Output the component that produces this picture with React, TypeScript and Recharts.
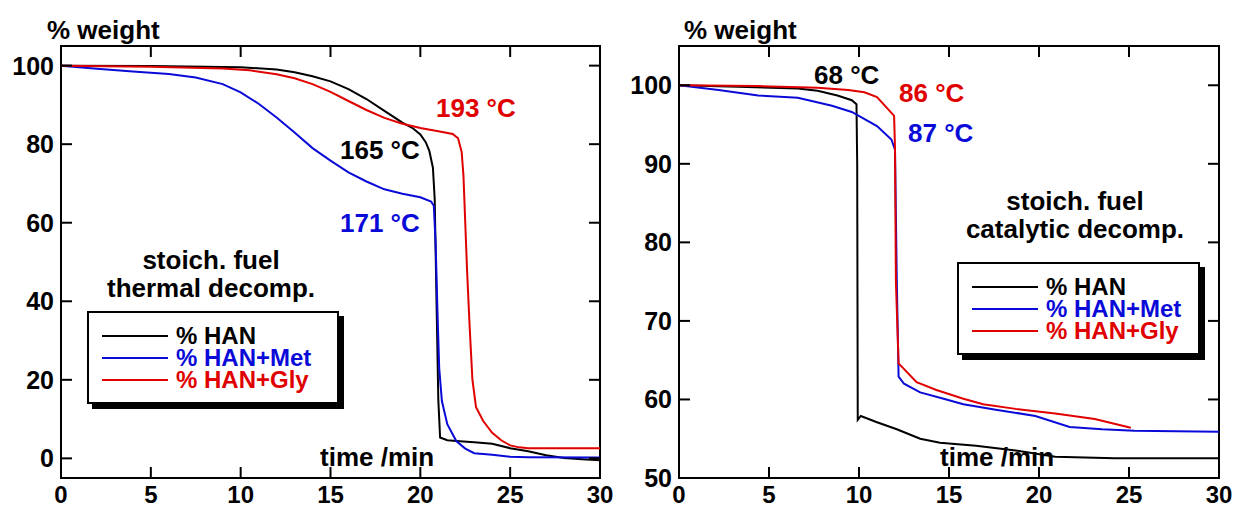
import React from 'react';
import { LineChart, Line, XAxis, YAxis, ReferenceArea } from 'recharts';

// thermal decomposition (left panel)
const thermalHanTime = [0, 5, 10, 12, 13, 14, 15, 16, 17, 18, 19, 19.6, 20, 20.3, 20.5, 20.7, 20.8, 20.9, 21.0, 21.1, 21.5, 22, 23, 24, 25, 26, 27, 28, 29, 30];
const thermalHanWeight = [100, 99.9, 99.6, 99, 98.3, 97.3, 96, 94, 91.5, 88.5, 85.5, 84, 82.5, 80.5, 78.3, 74, 66, 40, 15, 5.3, 4.6, 4.4, 4.1, 3.7, 2.6, 1.8, 0.8, 0.1, -0.2, -0.5];

const thermalMetTime = [0, 2, 4, 6, 7.5, 9, 10, 11, 12, 13, 14, 15, 16, 17, 18, 19, 20, 20.6, 20.75, 20.85, 20.95, 21.05, 21.2, 21.5, 22, 22.5, 23, 24, 25, 26, 30];
const thermalMetWeight = [100, 99.2, 98.5, 97.9, 97, 95.3, 93.2, 90.3, 86.8, 83, 79, 75.8, 72.8, 70.5, 68.5, 67.4, 66.5, 65.4, 64.3, 55, 38, 23, 14.6, 8.7, 4.4, 2.5, 1.3, 0.9, 0.4, 0.3, 0.2];

const thermalGlyTime = [0, 5, 9, 10.5, 12, 13, 14, 15, 16, 17, 18, 19, 20, 21, 21.8, 22.1, 22.3, 22.4, 22.5, 22.6, 22.75, 22.9, 23.1, 23.5, 24, 24.5, 25, 25.5, 26, 28, 30];
const thermalGlyWeight = [100, 99.7, 99.3, 98.8, 97.8, 96.8, 95.3, 93.3, 91, 88.7, 86.7, 85.2, 84.1, 83.3, 82.6, 81.5, 78, 72, 60, 48, 33, 20, 13, 9.5, 6.5, 4.6, 3.3, 2.8, 2.6, 2.6, 2.6];

// catalytic decomposition (right panel)
const catHanTime = [0, 3.3, 6.6, 7.7, 8.8, 9.6, 9.86, 9.9, 9.93, 10.1, 11, 12.1, 13.4, 14.5, 16.5, 18.7, 20.9, 24.2, 30];
const catHanWeight = [100, 99.8, 99.6, 99.3, 98.7, 98.1, 97.6, 90, 57.4, 57.9, 57.1, 56.2, 55, 54.5, 54.1, 53.5, 52.7, 52.5, 52.5];

const catMetTime = [0, 2.2, 4.4, 6.6, 8.5, 9.6, 11, 11.8, 12.0, 12.1, 12.2, 12.5, 13.4, 14.7, 15.8, 17.6, 19.8, 21.7, 23.5, 25.3, 30];
const catMetWeight = [100, 99.4, 98.7, 98.4, 97.4, 96.6, 94.8, 93.1, 91.8, 75, 62.9, 62, 60.9, 60.1, 59.4, 58.7, 57.9, 56.5, 56.2, 56, 55.9];

const catGlyTime = [0, 4.4, 7.7, 9.4, 10.3, 11, 11.6, 11.95, 12.0, 12.05, 12.2, 13.2, 14.3, 15.8, 16.9, 18.7, 20.9, 23.1, 25.1];
const catGlyWeight = [100, 99.9, 99.7, 99.4, 99.1, 98.5, 97, 96.1, 92, 75, 64.6, 62.2, 61.2, 60.1, 59.4, 58.8, 58.2, 57.5, 56.4];

const seriesNames = ['% HAN', '% HAN+Met', '% HAN+Gly'];
const seriesColors = ['#000000', '#0a0ad8', '#e00000'];

const timeTicks = [0, 5, 10, 15, 20, 25, 30];
const thermalTicks = [0, 20, 40, 60, 80, 100];
const catTicks = [50, 60, 70, 80, 90, 100];

const zip = (t: number[], v: number[]) => t.map((x, i) => ({ t: x, w: v[i] }));

const FONT = '"Liberation Sans", Arial, Helvetica, sans-serif';
const TICK_LEN = 11;
const CHART_H = 508;
const MARGIN_TOP = 46;
const MARGIN_BOTTOM = 29;
const AXIS_SIZE = 1;
const PLOT_H = CHART_H - MARGIN_TOP - MARGIN_BOTTOM - AXIS_SIZE;

const BottomTick = (props: any) => {
  const { x, y, payload, plotH } = props;
  return (
    <g>
      <line x1={x} x2={x} y1={y} y2={y - TICK_LEN} stroke="#000" strokeWidth={2} />
      <line x1={x} x2={x} y1={y - plotH} y2={y - plotH + TICK_LEN} stroke="#000" strokeWidth={2} />
      <text x={x} y={y + 25} textAnchor="middle" fontSize={24} fontWeight="bold" fontFamily={FONT} fill="#000">
        {payload.value}
      </text>
    </g>
  );
};

const LeftTick = (props: any) => {
  const { x, y, payload, plotW } = props;
  return (
    <g>
      <line x1={x} x2={x + TICK_LEN} y1={y} y2={y} stroke="#000" strokeWidth={2} />
      <line x1={x + plotW} x2={x + plotW - TICK_LEN} y1={y} y2={y} stroke="#000" strokeWidth={2} />
      <text x={x - 7} y={y} dy="0.36em" textAnchor="end" fontSize={25} fontWeight="bold" fontFamily={FONT} fill="#000">
        {payload.value}
      </text>
    </g>
  );
};

const Note = ({ x, y, color = '#000', children }: any) => (
  <div
    style={{
      position: 'absolute',
      left: x,
      top: y,
      transform: 'translateY(-50%)',
      color,
      fontFamily: FONT,
      fontWeight: 'bold',
      fontSize: 26,
      lineHeight: 1,
      whiteSpace: 'nowrap',
    }}
  >
    {children}
  </div>
);

const Block = ({ x, y, lines }: any) => (
  <div
    style={{
      position: 'absolute',
      left: x,
      top: y,
      transform: 'translate(-50%, -50%)',
      textAlign: 'center',
      fontFamily: FONT,
      fontWeight: 'bold',
      fontSize: 26,
      lineHeight: '28px',
      whiteSpace: 'nowrap',
    }}
  >
    {lines.map((l: string) => (
      <div key={l}>{l}</div>
    ))}
  </div>
);

const LegendBox = ({ x, y, w, h }: any) => (
  <div
    style={{
      position: 'absolute',
      left: x,
      top: y,
      width: w,
      height: h,
      boxSizing: 'border-box',
      border: '2px solid #000',
      boxShadow: '5px 5px 0 #000',
      background: '#fff',
      paddingTop: 12,
    }}
  >
    {seriesNames.map((name, i) => (
      <div key={name} style={{ display: 'flex', alignItems: 'center', height: 22 }}>
        <div style={{ marginLeft: 13, width: 66, height: 2, background: seriesColors[i] }} />
        <span
          style={{
            display: 'inline-block',
            marginLeft: 8,
            height: 22,
            lineHeight: '22px',
            color: seriesColors[i],
            fontFamily: FONT,
            fontWeight: 'bold',
            fontSize: 24,
            whiteSpace: 'nowrap',
          }}
        >
          {name}
        </span>
      </div>
    ))}
  </div>
);

const Panel = ({ width, marginLeft, marginRight, domain, yTicks, series }: any) => {
  const plotW = width - marginLeft - marginRight - AXIS_SIZE;
  return (
    <LineChart width={width} height={CHART_H} margin={{ top: MARGIN_TOP, right: marginRight, bottom: MARGIN_BOTTOM, left: marginLeft }}>
      <XAxis
        dataKey="t"
        type="number"
        domain={[0, 30]}
        ticks={timeTicks}
        height={AXIS_SIZE}
        tickSize={0}
        tickMargin={0}
        axisLine={false}
        tickLine={false}
        allowDataOverflow
        interval={0}
        tick={(p: any) => <BottomTick {...p} plotH={PLOT_H} />}
      />
      <YAxis
        type="number"
        domain={domain}
        ticks={yTicks}
        width={AXIS_SIZE}
        tickSize={0}
        tickMargin={0}
        axisLine={false}
        tickLine={false}
        allowDataOverflow
        interval={0}
        tick={(p: any) => <LeftTick {...p} plotW={plotW} />}
      />
      {series.map((d: any[], i: number) => (
        <Line
          key={seriesNames[i]}
          data={d}
          dataKey="w"
          name={seriesNames[i]}
          type="linear"
          stroke={seriesColors[i]}
          strokeWidth={2}
          dot={false}
          activeDot={false}
          isAnimationActive={false}
        />
      ))}
      <ReferenceArea x1={0} x2={30} y1={domain[0]} y2={domain[1]} fill="none" stroke="#000" strokeWidth={2} />
    </LineChart>
  );
};

export default function App() {
  const thermal = [zip(thermalHanTime, thermalHanWeight), zip(thermalMetTime, thermalMetWeight), zip(thermalGlyTime, thermalGlyWeight)];
  const catalytic = [zip(catHanTime, catHanWeight), zip(catMetTime, catMetWeight), zip(catGlyTime, catGlyWeight)];
  return (
    <div style={{ position: 'absolute', left: 0, top: 0, width: 1239, height: 508, background: '#fff', overflow: 'hidden' }}>
      <div style={{ position: 'absolute', left: 0, top: 0 }}>
        <Panel width={620} marginLeft={60} marginRight={20} domain={[-5, 105]} yTicks={thermalTicks} series={thermal} />
      </div>
      <div style={{ position: 'absolute', left: 620, top: 0 }}>
        <Panel width={619} marginLeft={58} marginRight={20} domain={[50, 105]} yTicks={catTicks} series={catalytic} />
      </div>

      <Note x={47} y={30}>% weight</Note>
      <Note x={684} y={30}>% weight</Note>
      <Note x={320} y={457}>time /min</Note>
      <Note x={940} y={457}>time /min</Note>

      <Note x={436} y={108} color={seriesColors[2]}>193 °C</Note>
      <Note x={340} y={150}>165 °C</Note>
      <Note x={340} y={223} color={seriesColors[1]}>171 °C</Note>
      <Block x={211} y={274} lines={['stoich. fuel', 'thermal decomp.']} />
      <LegendBox x={87} y={311} w={252} h={93} />

      <Note x={814} y={75}>68 °C</Note>
      <Note x={899} y={93} color={seriesColors[2]}>86 °C</Note>
      <Note x={908} y={133} color={seriesColors[1]}>87 °C</Note>
      <Block x={1075} y={215} lines={['stoich. fuel', 'catalytic decomp.']} />
      <LegendBox x={957} y={262} w={243} h={93} />
    </div>
  );
}
